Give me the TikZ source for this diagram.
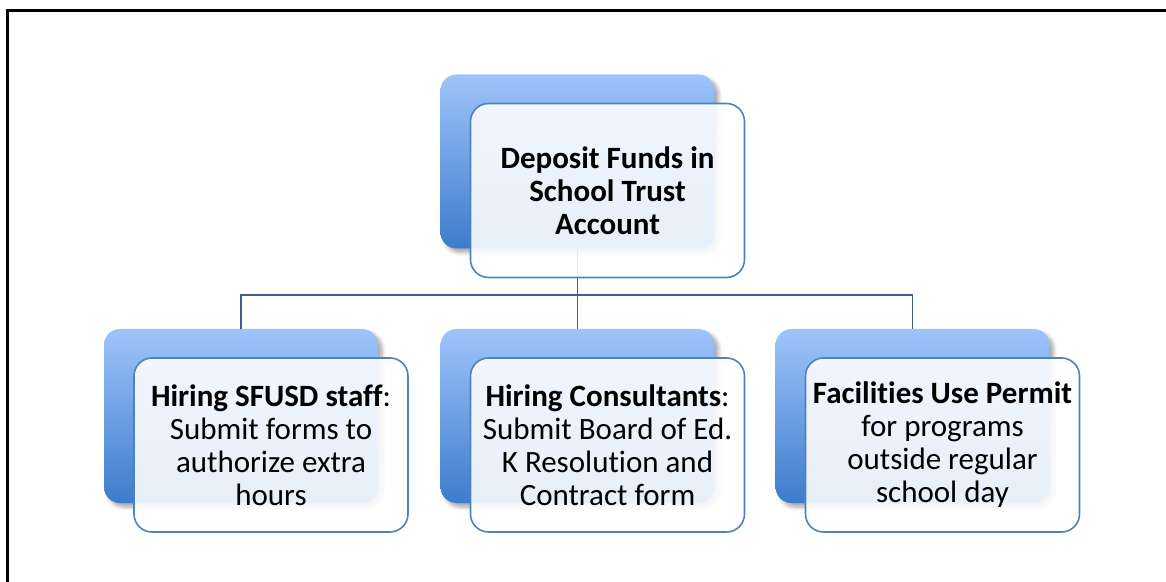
\documentclass[tikz,border=0pt]{standalone}
\usepackage{fontspec}
\setmainfont{Carlito}[Ligatures=NoCommon]
\usetikzlibrary{positioning,shadows.blur}
\definecolor{boxtop}{RGB}{158,196,250}
\definecolor{boxbot}{RGB}{60,124,204}
\definecolor{edge}{RGB}{79,129,189}
\definecolor{link}{RGB}{62,96,145}

\begin{document}
\begin{tikzpicture}[x=0.5pt,y=-0.5pt,
  back/.style={rounded corners=8pt, minimum width=137pt, minimum height=87pt,
    top color=boxtop, bottom color=boxbot,
    blur shadow={shadow xshift=2pt, shadow yshift=-2pt, shadow opacity=35, shadow blur steps=6}},
  front/.style={draw=edge, line width=0.8pt, rounded corners=9pt, minimum width=137pt,
    minimum height=87pt, fill=white, fill opacity=0.88, text opacity=1,
    align=center, font=\fontsize{15.5}{16.5}\selectfont},
  wire/.style={draw=link, line width=0.9pt}]
\useasboundingbox (0,0) rectangle (1166,582);
\draw [line width=1.5pt] (7,582) -- (7,11) -- (1166,11);

% back boxes
\node [back] (top) at (577.5,161.5) {};
\node [back] (hire) at (241,416) {};
\node [back] (cons) at (577.5,416) {};
\node [back] (fac) at (912.5,416) {};

% connectors
\coordinate (bar) at (577.5,295);
\draw [wire] (top.south) -- (bar);
\draw [wire] (bar) -| (hire.north);
\draw [wire] (bar) -- (cons.north);
\draw [wire] (bar) -| (fac.north);

% front boxes
\node [front] (topf) at ([xshift=15pt,yshift=-14.5pt]top.center)
  {\textbf{Deposit Funds in}\\ \textbf{School Trust}\\ \textbf{Account}};
\node [front] (hiref) at ([xshift=15pt,yshift=-14.5pt]hire.center)
  {\textbf{Hiring SFUSD staff}:\\ Submit forms to\\ authorize extra\\ hours};
\node [front] (consf) at ([xshift=15pt,yshift=-14.5pt]cons.center)
  {\textbf{Hiring Consultants}:\\ Submit Board of Ed.\\ K Resolution and\\ Contract form};
\node [front] (facf) at ([xshift=15pt,yshift=-14.5pt]fac.center)
  {\textbf{Facilities Use Permit}\\ for programs\\ outside regular\\ school day};

\end{tikzpicture}
\end{document}
